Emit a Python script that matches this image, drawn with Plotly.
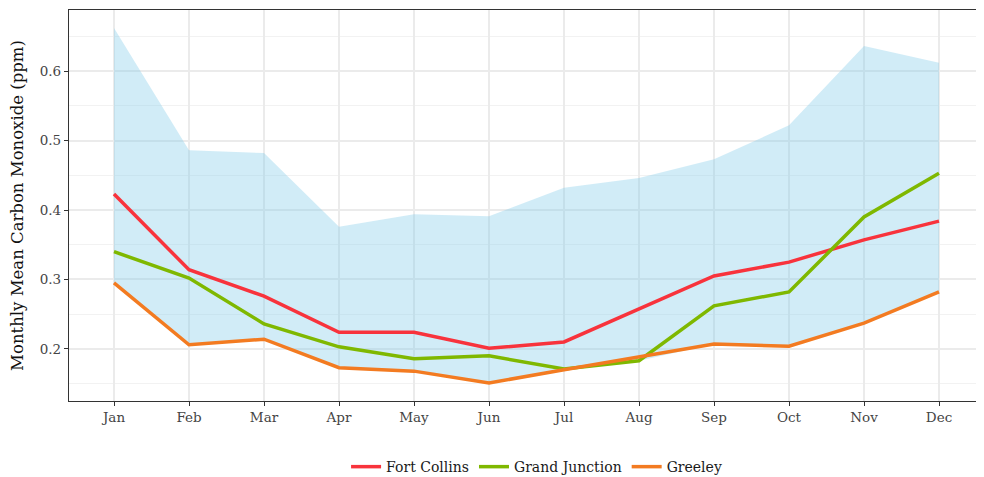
import plotly.graph_objects as go

months = ["Jan", "Feb", "Mar", "Apr", "May", "Jun", "Jul", "Aug", "Sep", "Oct", "Nov", "Dec"]
fort_collins = [0.423, 0.314, 0.276, 0.224, 0.224, 0.201, 0.210, 0.258, 0.305, 0.325, 0.357, 0.384]
grand_junction = [0.340, 0.302, 0.236, 0.203, 0.186, 0.190, 0.171, 0.183, 0.262, 0.282, 0.390, 0.453]
greeley = [0.295, 0.206, 0.214, 0.173, 0.168, 0.151, 0.170, 0.188, 0.207, 0.204, 0.237, 0.282]
ribbon_high = [0.662, 0.486, 0.482, 0.376, 0.394, 0.391, 0.432, 0.446, 0.473, 0.522, 0.636, 0.612]
ribbon_low = [min(a, b, c) for a, b, c in zip(fort_collins, grand_junction, greeley)]

FONT = "DejaVu Serif"
x = list(range(len(months)))

fig = go.Figure()
fig.add_trace(go.Scatter(x=x, y=ribbon_low, mode="lines", line=dict(width=0),
                         showlegend=False, hoverinfo="skip"))
fig.add_trace(go.Scatter(x=x, y=ribbon_high, mode="lines", line=dict(width=0),
                         fill="tonexty", fillcolor="rgba(135,206,235,0.38)",
                         showlegend=False, hoverinfo="skip"))
for name, vals, col in [("Fort Collins", fort_collins, "#F8333C"),
                        ("Grand Junction", grand_junction, "#7FB800"),
                        ("Greeley", greeley, "#F37B21")]:
    fig.add_trace(go.Scatter(x=x, y=vals, mode="lines", name=name,
                             line=dict(color=col, width=3.5)))

fig.update_layout(
    width=976, height=469,
    margin=dict(l=61, r=0, t=2, b=76, autoexpand=False),
    paper_bgcolor="white", plot_bgcolor="white",
    font=dict(family=FONT, color="#222222", size=13),
    legend=dict(orientation="h", x=0.511, xanchor="center", y=-0.128, yanchor="top",
                traceorder="normal",
                font=dict(size=14, color="#1a1a1a"), itemwidth=30),
    showlegend=True,
)
fig.update_xaxes(range=[-0.6, 11.6], tickvals=x, ticktext=months, automargin=False,
                 showgrid=True, gridcolor="#EBEBEB", gridwidth=1.5,
                 showline=True, linecolor="#333333", linewidth=1.2, mirror=True,
                 ticks="outside", ticklen=4, tickcolor="#333333",
                 tickfont=dict(size=13.5, color="#444444"), zeroline=False)
fig.update_yaxes(range=[0.125, 0.688], tickvals=[0.2, 0.3, 0.4, 0.5, 0.6], automargin=False,
                 ticktext=["0.2", "0.3", "0.4", "0.5", "0.6"],
                 showgrid=True, gridcolor="#EBEBEB", gridwidth=1.5,
                 minor=dict(tickvals=[0.15, 0.25, 0.35, 0.45, 0.55, 0.65],
                            showgrid=True, gridcolor="#F2F2F2", gridwidth=1),
                 showline=True, linecolor="#333333", linewidth=1.2, mirror=True,
                 ticks="outside", ticklen=4, tickcolor="#333333",
                 tickfont=dict(size=13.5, color="#444444"), zeroline=False,
                 title=dict(text="Monthly Mean Carbon Monoxide (ppm)",
                            font=dict(size=16.5, color="#111111"), standoff=12))

fig.write_html("out.html")
